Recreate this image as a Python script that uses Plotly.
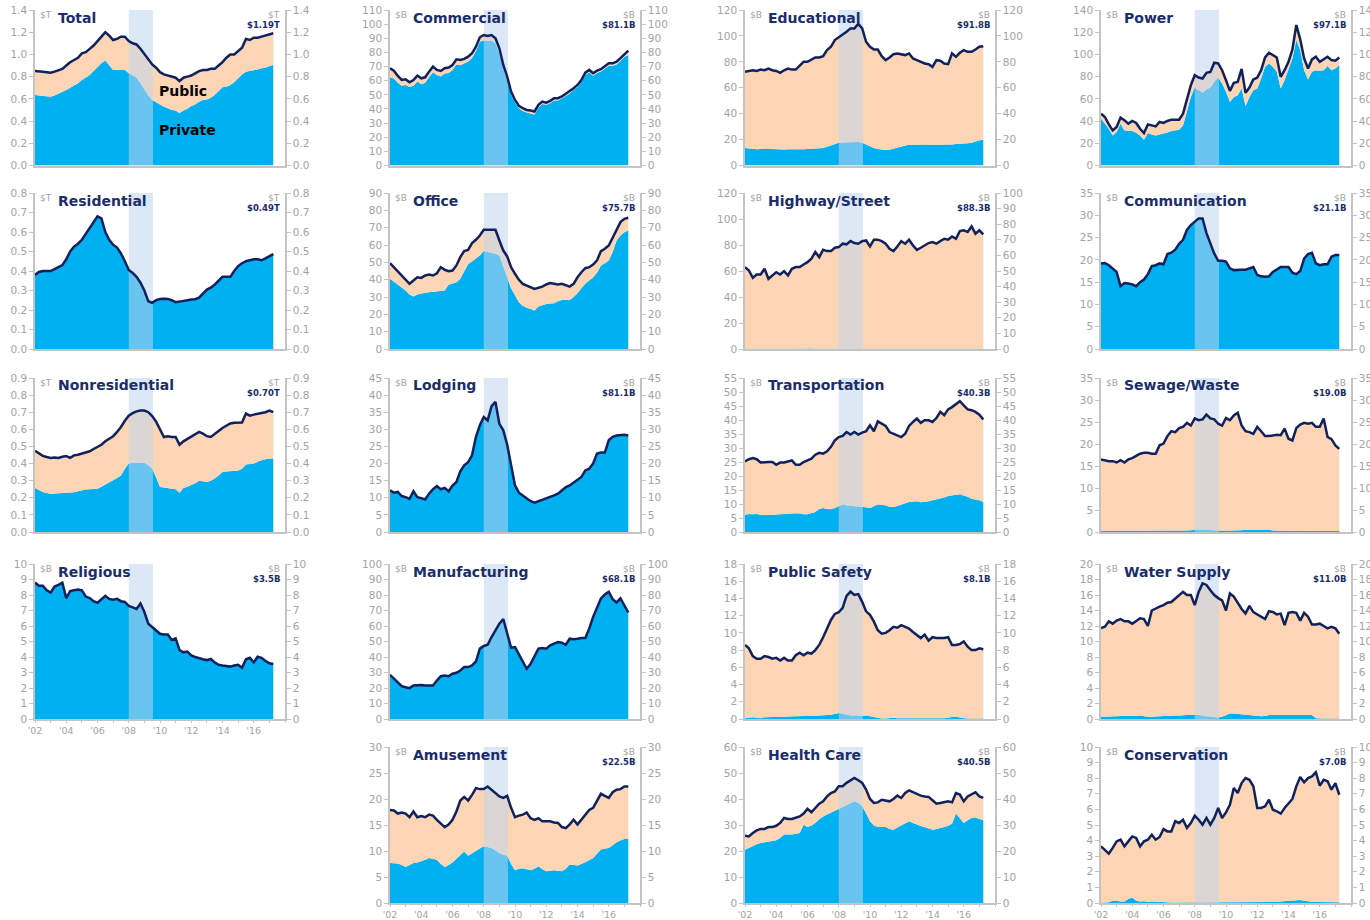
"""
Construction spending small multiples: private (blue) vs public (peach) put-in-place,
seasonally adjusted annual rate, 2002 - Mar 2017, with the 2008-09 recession shaded.
"""

import plotly.graph_objects as go

# quarterly sample points, Jan 2002 .. Apr 2017
QUARTERS = [2002 + q / 4 for q in range(62)]
RECESSION = (2008.0, 2009.55)
YEAR_TICKS = list(range(2002, 2019))
YEAR_LABELS = ["'02", "", "'04", "", "'06", "", "'08", "", "'10", "", "'12", "", "'14", "",
               "'16", "", ""]

# ---- values (total line and private layer) ----
TOTAL_ALL = [0.85, 0.85, 0.845, 0.84, 0.835, 0.845, 0.86, 0.87, 0.90, 0.93, 0.95, 0.97,
             1.01, 1.02, 1.05, 1.08, 1.12, 1.16, 1.20, 1.17, 1.13, 1.14, 1.16, 1.16,
             1.12, 1.10, 1.09, 1.05, 1.00, 0.95, 0.91, 0.88, 0.84, 0.82, 0.81, 0.80,
             0.79, 0.76, 0.79, 0.80, 0.81, 0.83, 0.85, 0.86, 0.86, 0.87, 0.87, 0.90,
             0.93, 0.97, 1.00, 1.00, 1.03, 1.06, 1.14, 1.13, 1.15, 1.15, 1.16, 1.17,
             1.18, 1.19]
PRIVATE_ALL = [0.635, 0.63, 0.625, 0.62, 0.62, 0.63, 0.645, 0.66, 0.68, 0.70, 0.72, 0.74,
               0.77, 0.79, 0.815, 0.85, 0.89, 0.92, 0.945, 0.90, 0.86, 0.86, 0.865, 0.86,
               0.83, 0.81, 0.79, 0.74, 0.68, 0.63, 0.59, 0.57, 0.545, 0.53, 0.515, 0.50,
               0.495, 0.47, 0.495, 0.51, 0.535, 0.55, 0.575, 0.59, 0.595, 0.61, 0.635, 0.67,
               0.705, 0.71, 0.725, 0.75, 0.785, 0.82, 0.845, 0.85, 0.86, 0.865, 0.875, 0.88,
               0.895, 0.905]

RESIDENTIAL = [0.38, 0.395, 0.40, 0.40, 0.40, 0.41, 0.42, 0.43, 0.46, 0.50, 0.525, 0.54,
               0.56, 0.59, 0.62, 0.65, 0.68, 0.67, 0.60, 0.56, 0.535, 0.52, 0.49, 0.45,
               0.405, 0.39, 0.37, 0.34, 0.30, 0.245, 0.237, 0.25, 0.257, 0.258, 0.257, 0.25,
               0.24, 0.243, 0.245, 0.25, 0.254, 0.255, 0.263, 0.285, 0.305, 0.315, 0.33, 0.35,
               0.37, 0.37, 0.37, 0.40, 0.425, 0.44, 0.45, 0.455, 0.46, 0.46, 0.455, 0.465,
               0.478, 0.487]

NONRES_TOTAL = [0.475, 0.46, 0.445, 0.438, 0.433, 0.435, 0.433, 0.44, 0.444, 0.433, 0.448, 0.452,
                0.458, 0.465, 0.472, 0.485, 0.497, 0.51, 0.53, 0.545, 0.56, 0.585, 0.614, 0.65,
                0.68, 0.695, 0.705, 0.71, 0.71, 0.70, 0.678, 0.645, 0.604, 0.555, 0.56, 0.555,
                0.555, 0.51, 0.53, 0.545, 0.56, 0.57, 0.585, 0.575, 0.56, 0.555, 0.575, 0.59,
                0.608, 0.62, 0.634, 0.638, 0.64, 0.64, 0.692, 0.68, 0.686, 0.69, 0.698, 0.70,
                0.71, 0.70]
NONRES_PRIVATE = [0.257, 0.245, 0.234, 0.228, 0.224, 0.225, 0.226, 0.228, 0.228, 0.228, 0.232, 0.238,
                  0.244, 0.248, 0.25, 0.252, 0.253, 0.265, 0.277, 0.29, 0.30, 0.315, 0.33, 0.37,
                  0.40, 0.405, 0.405, 0.405, 0.405, 0.39, 0.37, 0.32, 0.263, 0.26, 0.257, 0.255,
                  0.25, 0.23, 0.257, 0.265, 0.273, 0.285, 0.30, 0.298, 0.292, 0.30, 0.312, 0.33,
                  0.35, 0.353, 0.355, 0.358, 0.36, 0.37, 0.394, 0.398, 0.40, 0.41, 0.42, 0.425,
                  0.43, 0.43]

RELIGIOUS = [8.8, 8.6, 8.6, 8.3, 8.15, 8.55, 8.65, 8.8, 7.8, 8.25, 8.3, 8.35,
             8.3, 7.9, 7.8, 7.6, 7.5, 7.7, 7.95, 7.75, 7.7, 7.75, 7.6, 7.55,
             7.3, 7.2, 7.1, 7.45, 6.9, 6.15, 5.95, 5.7, 5.5, 5.45, 5.45, 5.1,
             5.2, 4.45, 4.3, 4.35, 4.1, 4.0, 3.9, 3.85, 3.8, 3.87, 3.65, 3.5,
             3.45, 3.4, 3.38, 3.45, 3.5, 3.3, 3.85, 3.95, 3.65, 4.02, 3.95, 3.75,
             3.6, 3.55]

COMMERCIAL_TOTAL = [68.8, 67.1, 63.4, 60.5, 61, 58.9, 60.5, 63.6, 61.7, 62.4, 66.4, 70,
                    67.6, 66.9, 68.8, 69.3, 71.1, 75.1, 74.7, 75.4, 77, 79.4, 84.1, 90.7,
                    92.3, 91.6, 92.3, 90, 82.9, 71.1, 62.9, 52.3, 46.4, 42.2, 40.5, 39.3,
                    38.9, 38.2, 42.9, 45.2, 44.5, 45.7, 47.6, 47.6, 48.8, 50.6, 52.3, 54.7,
                    57, 60.5, 65.7, 67.6, 65.3, 67.1, 68.1, 70, 72.3, 72.3, 73.5, 75.9,
                    78.9, 81.3]
COMMERCIAL_PRIVATE = [62.4, 61.5, 58.5, 56.5, 57, 55.5, 56.5, 59.5, 57.5, 58.5, 62.5, 66,
                      64, 63, 65, 65.5, 67.5, 71.5, 71, 72, 73.5, 76, 81, 87.5,
                      88.5, 88, 88.5, 86.5, 79.5, 68, 60, 50, 44.5, 40.5, 38.5, 37.5,
                      37, 36, 41, 43.5, 43, 44, 46, 46, 47.5, 49, 51, 53.5,
                      55.5, 59, 64, 66, 63.5, 65.5, 66.5, 68.5, 70.5, 70.5, 71.5, 74,
                      77, 78]

OFFICE_TOTAL = [49.5, 47.2, 44.9, 42.4, 40.5, 37.6, 39.5, 41.4, 41, 42.4, 43, 42.4,
                43.7, 47.2, 45.7, 44.9, 45.3, 48.2, 53, 56.5, 57.2, 61.1, 63, 65.5,
                68.8, 68.8, 68.4, 68.8, 62.6, 56.8, 53.4, 47.2, 43.4, 39.9, 37.6, 36.6,
                36, 34.7, 35.3, 36, 37.2, 38, 37.6, 37.2, 37.6, 36.6, 36, 37.6,
                41.4, 44.3, 46.6, 47.2, 48.7, 51.1, 56.5, 57.8, 59.7, 64.2, 68.4, 73.2,
                75.1, 75.7]
OFFICE_PRIVATE = [40.5, 38.8, 37.2, 35.5, 33.7, 31.5, 30.3, 31.5, 32.2, 32.5, 32.8, 33,
                  33.1, 33.5, 33.7, 37, 37.6, 38.5, 40.5, 45, 49.1, 50.5, 52, 54,
                  56.5, 56, 55.3, 55, 54, 48.2, 41.4, 35, 30.8, 27, 25, 23.8,
                  23.1, 22.2, 24.5, 25.2, 26, 26.2, 26.4, 27.5, 28.3, 28.3, 28.3, 30,
                  32.2, 35, 37.6, 39.5, 41.4, 44, 48.2, 49.5, 51.1, 56, 62.6, 65.5,
                  67.4, 68.4]

LODGING = [12.2, 11.5, 11.7, 10.5, 10.2, 9.7, 11.9, 10.2, 9.9, 9.5, 11.2, 12.5,
           13.4, 12.5, 12.9, 11.9, 13.6, 14.6, 17.7, 19.5, 20.4, 22.4, 27.8, 31.2,
           33.6, 32.6, 36.8, 38, 31.6, 29.7, 25.5, 19.5, 13.6, 11.5, 10.7, 9.9,
           9, 8.6, 9, 9.3, 9.9, 10.2, 10.7, 11.2, 12.2, 13.1, 13.6, 14.4,
           15.1, 16.1, 18, 18.5, 20, 22.9, 23.2, 23.2, 26.8, 27.8, 28.2, 28.4,
           28.4, 28.2]

MANUFACTURING = [28.5, 25.9, 23.3, 21.2, 20.5, 19.9, 21.6, 22, 22, 21.6, 21.6, 21.6,
                 24.8, 27.6, 28.1, 27.6, 29.2, 29.8, 31.3, 33.5, 33.5, 34.6, 37.1, 45.4,
                 47.1, 47.9, 52.9, 57.2, 61.5, 64.5, 55, 46, 46.4, 41.5, 37.1, 32.4,
                 35.6, 41, 45.4, 45.8, 45.4, 47.5, 48.6, 49.7, 49.2, 47.9, 51.8, 51.4,
                 51.8, 52.3, 52.3, 58.3, 65.9, 72.4, 77.8, 80.3, 82.1, 77.3, 75.2, 77.8,
                 73, 68.7]

AMUSEMENT_TOTAL = [17.9, 17.8, 17.2, 17.4, 17.2, 16.5, 17.6, 16.5, 16.7, 16.5, 17, 16.8,
                   16, 15.3, 14.6, 15.1, 16, 17.6, 19.7, 20.4, 19.7, 20.8, 22.1, 21.9,
                   21.9, 22.4, 21.8, 21.2, 20.5, 20.2, 20.6, 18.3, 16.5, 16.8, 17, 17.4,
                   16.3, 16, 16.3, 15.7, 15.7, 15.7, 15.5, 15.4, 14.6, 14.4, 15.1, 16,
                   15.1, 16, 17, 17.9, 18.3, 19.6, 21, 20.6, 20.2, 21.3, 21.8, 21.9,
                   22.4, 22.4]
AMUSEMENT_PRIVATE = [7.7, 7.6, 7.6, 7.3, 6.9, 7.3, 7.7, 7.8, 8, 8.3, 8.65, 8.5,
                     8.3, 7.5, 6.9, 7.3, 7.8, 8.5, 9.3, 9.9, 9.1, 9.6, 10.1, 10.5,
                     10.9, 10.8, 10.6, 10.1, 9.6, 9.3, 9.1, 7.5, 6.3, 6.6, 6.7, 6.5,
                     6.3, 6.6, 7.05, 6.5, 6.1, 6.2, 6.3, 6.2, 6.1, 6.6, 7.4, 7.3,
                     7.2, 7.5, 7.8, 8.2, 8.65, 9.4, 10.3, 10.5, 10.6, 11.1, 11.7, 12,
                     12.3, 12.3]

EDUCATIONAL_TOTAL = [72.3, 73, 73.5, 73, 74, 73.5, 74.8, 73.5, 73, 71.5, 73.5, 74.8,
                     74, 74, 77.4, 80, 80, 81.8, 83.4, 83.4, 84.4, 89, 91.6, 96.8,
                     98.8, 101.4, 103.2, 105.8, 105.8, 109.2, 105.8, 95.5, 91.6, 89.5, 89.5, 84.4,
                     81.3, 83.4, 85.9, 86.5, 85.9, 85.2, 86.5, 82.6, 81.3, 80, 78.7, 78.2,
                     76.1, 81.3, 80.8, 78.7, 78.2, 86.5, 83.9, 87, 89, 87.7, 87.7, 89.5,
                     91.6, 92.1]
EDUCATIONAL_PRIVATE = [13.5, 13, 12.5, 12.5, 12.8, 13, 13.2, 12.8, 12.5, 12.3, 12.3, 12.5,
                       12.5, 12.3, 12.2, 12.5, 12.8, 13, 13.2, 13.5, 13.5, 14.5, 15.5, 16.5,
                       17.5, 17.8, 18, 18.2, 18.5, 18.2, 17.5, 16, 14.5, 13.5, 12.8, 12.3,
                       12, 12.2, 13, 14, 15, 15.5, 16, 16.2, 16.2, 16.5, 16.3, 16,
                       16, 16.2, 16, 15.8, 16, 16.2, 16.5, 17, 17, 17.2, 17.5, 18.5,
                       19.5, 20]

HIGHWAY_TOTAL = [63, 60.4, 54.8, 57.3, 57.3, 61.7, 54, 56.6, 59.1, 57.3, 59.9, 56.6,
                 61.7, 63, 63, 65, 66.8, 69.4, 74.6, 70.7, 76.3, 75.3, 75.3, 77.9,
                 78.4, 81, 80.5, 83, 81.5, 81, 83, 83.5, 78.9, 84.1, 84.1, 83,
                 81, 77.1, 75.3, 78.9, 83, 81, 84.1, 79.7, 76.3, 77.9, 79.7, 81.5,
                 82.3, 81, 83, 84.8, 84.1, 86.6, 84.8, 90.7, 91.3, 90, 94.3, 88.7,
                 91.3, 88.2]
HIGHWAY_PRIVATE = [0.2, 0.3, 0.2, 0.2, 0.3, 0.2, 0.2, 0.3, 0.2, 0.2, 0.3, 0.2,
                   0.2, 0.3, 0.3, 0.2, 0.3, 0.3, 0.2, 0.2, 0.3, 0.3, 0.4, 0.3,
                   0.3, 0.4, 0.4, 0.3, 0.3, 0.3, 0.3, 0.2, 0.2, 0.3, 0.3, 0.2,
                   0.2, 0.2, 0.2, 0.3, 0.3, 0.2, 0.3, 0.3, 0.3, 0.2, 0.2, 0.3,
                   0.3, 0.2, 0.2, 0.3, 0.3, 0.2, 0.2, 0.3, 0.3, 0.2, 0.2, 0.2,
                   0.2, 0.2]

TRANSPORT_TOTAL = [25.2, 26, 26.4, 26, 24.8, 25, 25, 25, 24, 24.8, 24.8, 25.2,
                   25.6, 24, 24, 25, 25.6, 26.2, 27.6, 28.3, 28, 28.8, 30.4, 32.7,
                   33.9, 34.3, 35.7, 34.8, 35.7, 34.8, 35.5, 36, 38.1, 36, 39.5, 38.7,
                   37.9, 35.7, 35.1, 34.5, 33.9, 35.1, 37.9, 39.3, 40.5, 39, 39.9, 39.9,
                   39.3, 40.7, 42.9, 41.7, 43.8, 44.6, 45.5, 46.7, 45.2, 43.8, 43.5, 42.9,
                   41.9, 40.2]
TRANSPORT_PRIVATE = [6.2, 6.4, 6.3, 6.4, 6.2, 6.1, 6.1, 6.2, 6.3, 6.4, 6.5, 6.6,
                     6.5, 6.7, 6.6, 6.3, 6.3, 6.6, 7.1, 8.2, 8.6, 8.2, 8.1, 8.6,
                     9.3, 9.8, 9.5, 9.4, 9.3, 9.1, 8.9, 8.8, 8.6, 9.2, 9.8, 9.7,
                     9.5, 9.0, 8.9, 9.3, 9.8, 10.2, 10.7, 10.9, 11, 10.6, 10.7, 11,
                     11.3, 11.6, 11.9, 12.3, 12.9, 13.2, 13.3, 13.5, 13.1, 12.6, 11.9, 11.6,
                     11.3, 10.7]

SAFETY_TOTAL = [8.6, 8.2, 7.3, 7.0, 7.0, 7.3, 7.2, 7.0, 7.1, 6.8, 7.1, 6.8,
                6.8, 7.4, 7.7, 7.4, 7.7, 7.6, 8.0, 8.6, 9.5, 10.5, 11.5, 12.2,
                12.4, 12.9, 14.3, 14.8, 14.4, 14.5, 13.6, 12.5, 12.1, 11.3, 10.3, 9.9,
                10, 10.3, 10.7, 10.6, 10.9, 10.7, 10.5, 10.1, 9.7, 9.4, 9.8, 9.1,
                9.5, 9.4, 9.4, 9.4, 9.5, 8.6, 8.6, 8.7, 9.0, 8.4, 8.0, 8.0,
                8.2, 8.1]
SAFETY_PRIVATE = [0.1, 0.15, 0.2, 0.15, 0.1, 0.2, 0.2, 0.25, 0.25, 0.2, 0.25, 0.3,
                  0.3, 0.35, 0.3, 0.35, 0.4, 0.35, 0.35, 0.4, 0.4, 0.45, 0.5, 0.6,
                  0.7, 0.6, 0.5, 0.4, 0.4, 0.35, 0.35, 0.4, 0.3, 0.2, 0.1, 0.05,
                  0.05, 0.1, 0.15, 0.1, 0.1, 0.05, 0.05, 0.05, 0.05, 0.05, 0.05, 0.05,
                  0.05, 0.05, 0.05, 0.1, 0.15, 0.25, 0.25, 0.15, 0.1, 0.05, 0.05, 0.05,
                  0.05, 0.05]

HEALTH_TOTAL = [25.9, 25.6, 26.9, 27.9, 28.5, 28.5, 29.2, 29.2, 29.7, 30.8, 32.7, 32.3,
                32.3, 32.7, 33.3, 34.4, 36.2, 34.9, 36.5, 38.2, 39.1, 41, 42.3, 42.9,
                44.9, 44.9, 46.2, 47.2, 48.1, 47.2, 46.2, 43.6, 40, 38.5, 38.7, 39.7,
                39.5, 39.1, 40, 41.3, 40.4, 42.3, 43.3, 42.6, 41.7, 41.3, 41, 40.8,
                39.5, 38.2, 38.5, 38.7, 39.1, 38.7, 42.3, 41.7, 39.1, 41, 41.7, 42.6,
                41, 40.4]
HEALTH_PRIVATE = [20.5, 21.3, 22, 22.6, 23.1, 23.4, 23.7, 23.9, 24.1, 25, 26.3, 26.3,
                  26.3, 26.6, 26.9, 30.1, 29.2, 29.8, 30.8, 32.2, 33.3, 34, 34.6, 35.5,
                  36.2, 37, 37.8, 38.5, 39.1, 38.5, 37.2, 34.5, 31.4, 29.8, 29.2, 29.2,
                  29.2, 28.5, 28.2, 29, 29.7, 30.5, 31.4, 30.8, 30.1, 29.6, 29.2, 28.8,
                  28.2, 28.5, 28.8, 29.2, 29.7, 30.5, 34.4, 32.5, 30.8, 31.8, 32.7, 32.9,
                  32.3, 31.8]

POWER_TOTAL = [46.7, 43.7, 37, 31.6, 34.6, 43.1, 40.7, 37.7, 40.1, 38.3, 33.1, 29.2,
               37, 36.1, 35.2, 39.2, 38.3, 40.1, 41.3, 41.3, 41.3, 46.7, 58.7, 72.3,
               81.3, 79.2, 78.3, 83.4, 84.3, 92.5, 91.9, 85.8, 76.8, 67.2, 74.4, 75.3,
               87, 65.4, 70.2, 77.4, 79.2, 85.8, 97.3, 101.5, 99.4, 97.3, 79.8, 85.8,
               93.4, 104.5, 126.5, 113.6, 96.4, 87.3, 95.5, 97.9, 93.4, 95.5, 97.9, 94.9,
               94.3, 97.3]
POWER_PRIVATE = [42.2, 38, 33.1, 27.1, 30.1, 37.7, 31.6, 31.3, 31, 29.5, 27.1, 23.2,
                 29.2, 28, 27.1, 28, 28.6, 29.8, 31, 31.6, 32.2, 36.1, 49.7, 61.7,
                 70.2, 67.8, 65.4, 68.4, 70.2, 75.3, 79.2, 73.8, 66.3, 57.2, 61.7, 63.3,
                 69.3, 53.3, 61.7, 67.8, 69.3, 78.3, 88.9, 91.9, 88.9, 84.3, 69.3, 76.8,
                 85.8, 96.4, 113, 103.9, 85.8, 77.4, 84.3, 85.8, 85.2, 85.8, 89.5, 85.8,
                 87.3, 90.4]

COMMUNICATION = [19.2, 19.3, 18.8, 18.1, 17.3, 14.1, 14.8, 14.7, 14.5, 14.1, 15, 15.6,
                 16.8, 18.6, 18.8, 19.2, 19, 21.3, 21.6, 22.3, 23.6, 24.5, 26.7, 27.8,
                 28.6, 29.3, 29.3, 26, 23.7, 21.4, 19.8, 19.8, 19.6, 18.1, 17.7, 17.8,
                 17.8, 17.8, 18.1, 18.4, 16.6, 16.3, 16.2, 16.3, 17.3, 17.8, 18.4, 18.4,
                 18.4, 17.1, 16.8, 17.5, 20.3, 21.3, 21.6, 19.2, 18.8, 19, 19, 20.7,
                 21.1, 21.1]

SEWAGE_TOTAL = [16.5, 16.3, 16.1, 16.1, 15.8, 16.3, 15.8, 16.5, 16.8, 17.3, 17.8, 18,
                18, 17.8, 17.8, 19.7, 20.1, 21.8, 22.9, 22.7, 23.6, 23.9, 24.8, 24.2,
                25.8, 25.4, 25.6, 26.7, 25.8, 25.6, 24.6, 24.2, 25.9, 25.4, 26.5, 27.1,
                24.2, 22.9, 22.7, 22.3, 23.9, 22.9, 21.8, 21.8, 22, 22.1, 22, 23.5,
                21.2, 20.8, 23.6, 24.4, 24.8, 24.6, 24.8, 23.9, 23.9, 25.8, 21.6, 21.1,
                19.7, 18.9]
SEWAGE_PRIVATE = [0.3, 0.3, 0.25, 0.2, 0.2, 0.2, 0.2, 0.25, 0.25, 0.3, 0.3, 0.25,
                  0.25, 0.25, 0.2, 0.2, 0.2, 0.25, 0.25, 0.3, 0.3, 0.3, 0.35, 0.4,
                  0.5, 0.5, 0.5, 0.5, 0.45, 0.4, 0.35, 0.3, 0.3, 0.3, 0.35, 0.35,
                  0.4, 0.5, 0.45, 0.4, 0.45, 0.5, 0.55, 0.5, 0.35, 0.3, 0.25, 0.25,
                  0.2, 0.2, 0.2, 0.2, 0.25, 0.25, 0.3, 0.3, 0.25, 0.25, 0.25, 0.25,
                  0.25, 0.25]

WATER_TOTAL = [11.75, 11.9, 12.6, 12.3, 12.7, 12.9, 12.6, 12.6, 12.3, 12.6, 13, 12.9,
               12, 14, 14.3, 14.5, 14.7, 15, 15.1, 15.5, 16, 16.4, 16, 16,
               14.7, 16.4, 17.5, 17.3, 16.6, 16, 15.6, 15.3, 14, 16.2, 15.8, 15,
               14.2, 13.6, 14.6, 13.8, 13.5, 13.2, 12.9, 13.9, 13.8, 13.5, 13.6, 12.1,
               13.7, 13.8, 13.7, 12.7, 13.7, 13.2, 12.2, 12.2, 12.3, 12, 11.7, 11.9,
               11.7, 11]
WATER_PRIVATE = [0.3, 0.3, 0.35, 0.35, 0.35, 0.4, 0.4, 0.35, 0.35, 0.4, 0.45, 0.35,
                 0.3, 0.3, 0.35, 0.4, 0.4, 0.4, 0.45, 0.45, 0.45, 0.5, 0.5, 0.5,
                 0.55, 0.5, 0.4, 0.35, 0.3, 0.25, 0.2, 0.3, 0.5, 0.7, 0.7, 0.65,
                 0.6, 0.55, 0.5, 0.45, 0.4, 0.35, 0.4, 0.5, 0.5, 0.5, 0.5, 0.5,
                 0.5, 0.5, 0.5, 0.5, 0.5, 0.5, 0.5, 0.1, 0.05, 0.05, 0.05, 0.05,
                 0.05, 0.05]

CONSERVATION_TOTAL = [3.63, 3.42, 3.16, 3.53, 3.95, 4.06, 3.63, 3.95, 4.27, 4.17, 3.63, 3.95,
                      4.06, 4.38, 4.06, 4.23, 4.74, 4.59, 4.59, 5.24, 5.13, 5.34, 4.81, 5.13,
                      5.6, 5.34, 5.02, 5.45, 5.02, 5.45, 6.09, 5.45, 5.81, 6.3, 7.37, 7.05,
                      7.69, 8.01, 7.9, 7.48, 6.09, 6.09, 6.2, 6.62, 5.98, 5.88, 5.73, 6.09,
                      6.41, 6.67, 7.48, 8.08, 7.74, 8.01, 8.12, 8.38, 7.52, 7.9, 7.8, 7.26,
                      7.69, 6.94]
CONSERVATION_PRIVATE = [0.02, 0.02, 0.05, 0.15, 0.15, 0.1, 0.1, 0.25, 0.35, 0.15, 0.1, 0.12,
                        0.08, 0.1, 0.08, 0.06, 0.05, 0.05, 0.04, 0.04, 0.04, 0.04, 0.04, 0.04,
                        0.03, 0.03, 0.03, 0.03, 0.03, 0.02, 0.02, 0.02, 0.03, 0.03, 0.03, 0.03,
                        0.04, 0.04, 0.04, 0.04, 0.05, 0.05, 0.05, 0.05, 0.06, 0.08, 0.1, 0.1,
                        0.1, 0.12, 0.18, 0.2, 0.15, 0.1, 0.08, 0.06, 0.06, 0.05, 0.05, 0.05,
                        0.05, 0.05]

# title, col, row, total, private, unit, latest, y max, y step, right axis (max, step)
PANELS = [
    ("Total", 0, 0, TOTAL_ALL, PRIVATE_ALL, "$T", "$1.19T", 1.4, 0.2, None),
    ("Residential", 0, 1, RESIDENTIAL, RESIDENTIAL, "$T", "$0.49T", 0.8, 0.1, None),
    ("Nonresidential", 0, 2, NONRES_TOTAL, NONRES_PRIVATE, "$T", "$0.70T", 0.9, 0.1, None),
    ("Religious", 0, 3, RELIGIOUS, RELIGIOUS, "$B", "$3.5B", 10, 1, None),
    ("Commercial", 1, 0, COMMERCIAL_TOTAL, COMMERCIAL_PRIVATE, "$B", "$81.1B", 110, 10, None),
    ("Office", 1, 1, OFFICE_TOTAL, OFFICE_PRIVATE, "$B", "$75.7B", 90, 10, None),
    ("Lodging", 1, 2, LODGING, LODGING, "$B", "$81.1B", 45, 5, None),
    ("Manufacturing", 1, 3, MANUFACTURING, MANUFACTURING, "$B", "$68.1B", 100, 10, None),
    ("Amusement", 1, 4, AMUSEMENT_TOTAL, AMUSEMENT_PRIVATE, "$B", "$22.5B", 30, 5, None),
    ("Educational", 2, 0, EDUCATIONAL_TOTAL, EDUCATIONAL_PRIVATE, "$B", "$91.8B", 120, 20, None),
    ("Highway/Street", 2, 1, HIGHWAY_TOTAL, HIGHWAY_PRIVATE, "$B", "$88.3B", 120, 20, (100, 10)),
    ("Transportation", 2, 2, TRANSPORT_TOTAL, TRANSPORT_PRIVATE, "$B", "$40.3B", 55, 5, None),
    ("Public Safety", 2, 3, SAFETY_TOTAL, SAFETY_PRIVATE, "$B", "$8.1B", 18, 2, None),
    ("Health Care", 2, 4, HEALTH_TOTAL, HEALTH_PRIVATE, "$B", "$40.5B", 60, 10, None),
    ("Power", 3, 0, POWER_TOTAL, POWER_PRIVATE, "$B", "$97.1B", 140, 20, None),
    ("Communication", 3, 1, COMMUNICATION, COMMUNICATION, "$B", "$21.1B", 35, 5, None),
    ("Sewage/Waste", 3, 2, SEWAGE_TOTAL, SEWAGE_PRIVATE, "$B", "$19.0B", 35, 5, None),
    ("Water Supply", 3, 3, WATER_TOTAL, WATER_PRIVATE, "$B", "$11.0B", 20, 2, None),
    ("Conservation", 3, 4, CONSERVATION_TOTAL, CONSERVATION_PRIVATE, "$B", "$7.0B", 10, 1, None),
]

for p in PANELS:
    assert len(p[3]) == len(QUARTERS) and len(p[4]) == len(QUARTERS), p[0]

# colours / geometry
BLUE = "#00b0f0"
PEACH = "#fcd5b4"
NAVY = "#10215e"
TITLE_NAVY = "#1b2d6b"
BAND = "rgba(191,213,238,0.55)"
AXIS_GREY = "#c4c4c4"
TICK_GREY = "#a3a3a3"
FONT = "Verdana, DejaVu Sans, sans-serif"

W, H = 1370, 920
COL_X = [35, 390, 745, 1101]
ROW_TOP = [10, 193, 378, 564, 747]
ROW_BOT = [165.5, 349, 532, 719, 903]
PLOT_W = 250
LAST_ROW = {0: 3, 1: 4, 2: 4, 3: 4}

fig = go.Figure()
layout = {}
annotations = []
n_panels = len(PANELS)

for i, (title, col, row, total, private, unit, latest, ymax, ystep, right) in enumerate(PANELS):
    n = i + 1
    sfx = "" if n == 1 else str(n)
    xref, yref = "x" + sfx, "y" + sfx
    x0 = COL_X[col]
    xdom = [x0 / W, (x0 + PLOT_W) / W]
    ydom = [1 - ROW_BOT[row] / H, 1 - ROW_TOP[row] / H]
    fmt = ".1f" if unit == "$T" else "d"

    fig.add_trace(go.Scatter(x=QUARTERS, y=private, mode="lines", line=dict(width=0),
                             fill="tozeroy", fillcolor=BLUE, xaxis=xref, yaxis=yref,
                             hoverinfo="skip"))
    fig.add_trace(go.Scatter(x=QUARTERS, y=total, mode="lines", line=dict(width=0),
                             fill="tonexty", fillcolor=PEACH, xaxis=xref, yaxis=yref,
                             hoverinfo="skip"))
    r0, r1 = RECESSION
    fig.add_trace(go.Scatter(x=[r0, r1, r1, r0, r0], y=[0, 0, ymax, ymax, 0], mode="lines",
                             line=dict(width=0), fill="toself", fillcolor=BAND,
                             xaxis=xref, yaxis=yref, hoverinfo="skip"))
    fig.add_trace(go.Scatter(x=QUARTERS, y=total, mode="lines",
                             line=dict(color=NAVY, width=2.5), xaxis=xref, yaxis=yref))

    bottom = row == LAST_ROW[col]
    layout["xaxis" + sfx] = dict(
        domain=xdom, range=[2002, 2018], anchor=yref, showgrid=False, zeroline=False,
        showline=True, linecolor=AXIS_GREY, linewidth=1.5,
        tickvals=YEAR_TICKS, ticktext=YEAR_LABELS, showticklabels=bottom,
        ticks="outside" if bottom else "", ticklen=2, tickcolor=AXIS_GREY,
        tickfont=dict(size=9.5, color=TICK_GREY, family=FONT), fixedrange=True,
    )
    axis_common = dict(
        domain=ydom, showgrid=False, zeroline=False, showline=True,
        linecolor=AXIS_GREY, linewidth=1.5, ticks="outside", ticklen=4,
        tickcolor=AXIS_GREY, tickfont=dict(size=10.5, color=TICK_GREY, family=FONT),
        anchor=xref, fixedrange=True, tick0=0, automargin=False,
    )
    layout["yaxis" + sfx] = dict(axis_common, range=[0, ymax], dtick=ystep,
                                 tickformat=fmt, side="left")
    rmax, rstep = right if right else (ymax, ystep)
    m = n + n_panels
    layout["yaxis" + str(m)] = dict(axis_common, range=[0, rmax], dtick=rstep,
                                    tickformat=fmt, side="right", overlaying=yref)
    fig.add_trace(go.Scatter(x=[None], y=[None], xaxis=xref, yaxis="y" + str(m),
                             showlegend=False, hoverinfo="skip"))

    top = ROW_TOP[row]
    annotations += [
        dict(text="<b>" + title + "</b>", x=(x0 + 21) / W, y=1 - (top + 7.5) / H,
             xanchor="left", yanchor="middle",
             font=dict(size=14, color=TITLE_NAVY, family=FONT)),
        dict(text=unit, x=(x0 + 3) / W, y=1 - (top + 5) / H, xanchor="left",
             yanchor="middle", font=dict(size=9, color=TICK_GREY, family=FONT)),
        dict(text=unit, x=(x0 + 247) / W, y=1 - (top + 5) / H, xanchor="right",
             yanchor="middle", font=dict(size=9, color=TICK_GREY, family=FONT)),
        dict(text="<b>" + latest + "</b>", x=(x0 + 247) / W, y=1 - (top + 15) / H,
             xanchor="right", yanchor="middle",
             font=dict(size=8.5, color=TITLE_NAVY, family=FONT)),
    ]

# layer labels inside the Total panel
annotations += [
    dict(text="<b>Public</b>", x=2009.83, y=0.673, xref="x", yref="y", xanchor="left",
         yanchor="middle", font=dict(size=14, color="#000000", family=FONT)),
    dict(text="<b>Private</b>", x=2009.83, y=0.32, xref="x", yref="y", xanchor="left",
         yanchor="middle", font=dict(size=14, color="#000000", family=FONT)),
]
for a in annotations:
    a.setdefault("xref", "paper")
    a.setdefault("yref", "paper")
    a["showarrow"] = False

fig.update_layout(
    width=W, height=H,
    margin=dict(l=0, r=0, t=0, b=0, pad=0, autoexpand=False),
    paper_bgcolor="white",
    plot_bgcolor="rgba(0,0,0,0)",
    showlegend=False,
    font=dict(family=FONT),
    annotations=annotations,
    **layout,
)

# the page's default 8px body margin would shift the whole figure
fig.write_html("out.html", config={"displayModeBar": False},
               post_script="document.body.style.margin = '0px';")
